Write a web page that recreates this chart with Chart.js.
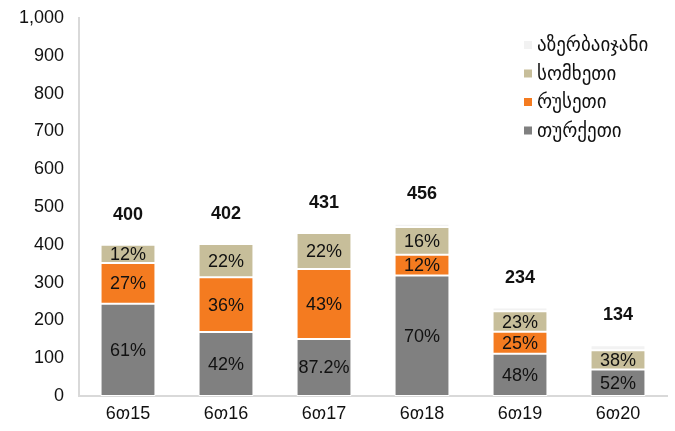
<!DOCTYPE html>
<html>
<head>
<meta charset="utf-8">
<script src="https://cdn.jsdelivr.net/npm/chart.js@4.4.1/dist/chart.umd.min.js"></script>
<style>
html,body{margin:0;padding:0;background:#fff;}
#wrap{width:675px;height:431px;position:relative;}
</style>
</head>
<body>
<div id="wrap"><canvas id="c" width="675" height="431"></canvas></div>
<script>
const categories = ['6თ15', '6თ16', '6თ17', '6თ18', '6თ19', '6თ20'];
const seriesNames = ['თურქეთი', 'რუსეთი', 'სომხეთი', 'აზერბაიჯანი'];
const turkey = [244, 169, 151, 319, 112, 70];
const russia = [108, 145, 185, 55, 58, 0];
const armenia = [48, 88, 95, 73, 54, 51];
const azerbaijan = [0, 0, 0, 9, 10, 13];
const totals = [400, 402, 431, 456, 234, 134];
const turkeyPct = ['61%', '42%', '87.2%', '70%', '48%', '52%'];
const russiaPct = ['27%', '36%', '43%', '12%', '25%', ''];
const armeniaPct = ['12%', '22%', '22%', '16%', '23%', '38%'];
const azerbaijanPct = ['', '', '', '', '', ''];
const yTicks = [0, 100, 200, 300, 400, 500, 600, 700, 800, 900, 1000];

const FONT = "'Liberation Sans', Arial, 'DejaVu Sans', sans-serif";
const colors = ['#808080', '#F47B20', '#C7BE9A', '#F2F2F2'];
const values = [turkey, russia, armenia, azerbaijan];
const pcts = [turkeyPct, russiaPct, armeniaPct, azerbaijanPct];

const labelPlugin = {
  id: 'labels',
  afterDatasetsDraw(chart) {
    const ctx = chart.ctx;
    ctx.save();
    ctx.textAlign = 'center';
    ctx.textBaseline = 'middle';
    ctx.fillStyle = '#111';
    ctx.font = '18px ' + FONT;
    chart.data.datasets.forEach((ds, i) => {
      const meta = chart.getDatasetMeta(i);
      meta.data.forEach((el, j) => {
        const t = ds.pct[j];
        if (!t) return;
        const p = el.getProps(['x', 'y', 'base'], true);
        ctx.fillText(t, p.x, (p.y + p.base) / 2 + 1);
      });
    });
    ctx.font = 'bold 18px ' + FONT;
    const yScale = chart.scales.y;
    const xScale = chart.scales.x;
    totals.forEach((t, j) => {
      const top = yScale.getPixelForValue(t);
      ctx.fillText(String(t), xScale.getPixelForValue(j), top - 30);
    });
    ctx.font = '19px ' + FONT;
    ctx.textAlign = 'left';
    const order = [3, 2, 1, 0];
    order.forEach((k, r) => {
      const cy = 45 + r * 28.5;
      ctx.fillStyle = colors[k];
      ctx.fillRect(524, cy - 4, 8, 8);
      ctx.fillStyle = '#111';
      ctx.fillText(seriesNames[k], 537, cy + 1);
    });
    ctx.restore();
  }
};

new Chart(document.getElementById('c'), {
  type: 'bar',
  data: {
    labels: categories,
    datasets: seriesNames.map((name, i) => ({
      label: name,
      data: values[i],
      pct: pcts[i],
      backgroundColor: colors[i],
      borderColor: '#ffffff',
      borderWidth: 1,
      borderSkipped: false,
      categoryPercentage: 1,
      barPercentage: 0.56
    }))
  },
  options: {
    responsive: false,
    animation: false,
    layout: { padding: { top: 18, right: 8, left: 0, bottom: 0 } },
    plugins: { legend: { display: false }, tooltip: { enabled: false } },
    scales: {
      x: {
        stacked: true,
        grid: { display: false, drawTicks: false },
        border: { color: '#D9D9D9', width: 2 },
        ticks: { color: '#111', font: { size: 18, family: FONT }, padding: 7 },
        afterFit(s) { s.height = 35; s.paddingLeft = 0; s.paddingRight = 0; }
      },
      y: {
        stacked: true,
        min: 0,
        max: 1000,
        afterBuildTicks(s) { s.ticks = yTicks.map(v => ({ value: v })); },
        grid: { display: false, drawTicks: false },
        border: { color: '#D9D9D9', width: 2 },
        ticks: {
          color: '#111',
          font: { size: 18, family: FONT },
          padding: 15,
          callback: v => v.toLocaleString('en-US')
        },
        afterFit(s) { s.width = 79; s.paddingTop = 0; s.paddingBottom = 0; }
      }
    }
  },
  plugins: [labelPlugin]
});
</script>
</body>
</html>
